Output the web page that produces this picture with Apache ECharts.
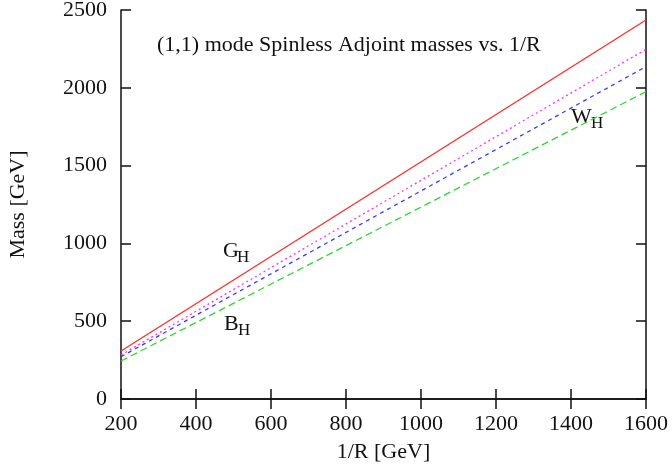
<!DOCTYPE html>
<html>
<head>
<meta charset="utf-8">
<script src="https://cdn.jsdelivr.net/npm/echarts@6/dist/echarts.min.js"></script>
<style>html,body{margin:0;padding:0;background:#fff}#c{width:672px;height:473px}</style>
</head>
<body>
<div id="c"></div>
<script>
var invR = [200, 1600];
var massG = [308, 2436];
var massMagenta = [283, 2247];
var massBlue = [272, 2136];
var massGreen = [244, 1975];
var xTicks = [200, 400, 600, 800, 1000, 1200, 1400, 1600];
var yTicks = [0, 500, 1000, 1500, 2000, 2500];
var titleText = '(1,1) mode Spinless Adjoint masses vs. 1/R';

function pairs(xs, ys){ return xs.map(function(x,i){return [x, ys[i]];}); }

var FONT = 'Liberation Serif';
var chart = echarts.init(document.getElementById('c'));
var axisCommon = {
  axisLine: {show: true, lineStyle: {color: '#111', width: 1.5}},
  axisTick: {show: true, inside: true, length: 10, lineStyle: {color: '#111', width: 1.5}},
  splitLine: {show: false}
};
function mkLabel(x, y, main, sub){
  return [
    {type: 'text', left: x, top: y, style: {text: main, font: '22px ' + FONT, fill: '#111'}},
    {type: 'text', left: x + (main === 'W' ? 20 : 14), top: y + 9, style: {text: sub, font: '17px ' + FONT, fill: '#111'}}
  ];
}
var graphics = [].concat(
  [{type: 'text', left: 157, top: 34, style: {text: titleText, font: '22px ' + FONT, fill: '#111'}}],
  mkLabel(223, 240, 'G', 'H'),
  mkLabel(224, 313, 'B', 'H'),
  mkLabel(571, 106, 'W', 'H')
);
function plain(v){ return String(v); }
chart.setOption({
  animation: false,
  backgroundColor: '#fff',
  grid: {left: 121, right: 26, top: 10, bottom: 74, containLabel: false, outerBoundsMode: 'none'},
  xAxis: [
    Object.assign({type: 'value', min: xTicks[0], max: xTicks[xTicks.length-1], interval: 200,
      name: '1/R [GeV]', nameLocation: 'middle', nameGap: 42,
      nameTextStyle: {fontFamily: FONT, fontSize: 22, color: '#111'},
      axisLabel: {fontFamily: FONT, fontSize: 22, color: '#111', margin: 14, formatter: plain}}, axisCommon),
    Object.assign({type: 'value', position: 'top', min: xTicks[0], max: xTicks[xTicks.length-1], interval: 200,
      axisLabel: {show: false}}, axisCommon)
  ],
  yAxis: [
    Object.assign({type: 'value', min: yTicks[0], max: yTicks[yTicks.length-1], interval: 500,
      name: 'Mass [GeV]', nameLocation: 'middle', nameGap: 92, nameRotate: 90,
      nameTextStyle: {fontFamily: FONT, fontSize: 22, color: '#111'},
      axisLabel: {fontFamily: FONT, fontSize: 22, color: '#111', margin: 14, formatter: plain}}, axisCommon),
    Object.assign({type: 'value', position: 'right', min: yTicks[0], max: yTicks[yTicks.length-1], interval: 500,
      axisLabel: {show: false}}, axisCommon)
  ],
  series: [
    {type: 'line', data: pairs(invR, massG), symbol: 'none', lineStyle: {color: '#ff2a2a', width: 1.3, type: 'solid'}},
    {type: 'line', data: pairs(invR, massMagenta), symbol: 'none', lineStyle: {color: '#ff30ff', width: 1.3, type: [2, 3]}},
    {type: 'line', data: pairs(invR, massBlue), symbol: 'none', lineStyle: {color: '#3a3aff', width: 1.3, type: [4, 4]}},
    {type: 'line', data: pairs(invR, massGreen), symbol: 'none', lineStyle: {color: '#2fd62f', width: 1.3, type: [7, 4]}}
  ],
  graphic: graphics
});
</script>
</body>
</html>
